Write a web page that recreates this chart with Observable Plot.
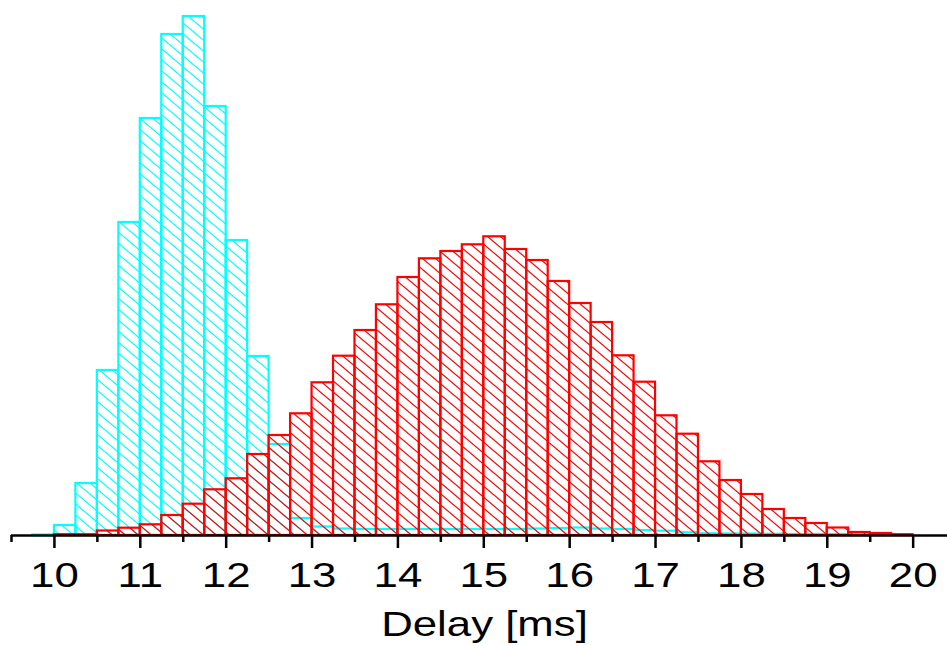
<!DOCTYPE html>
<html>
<head>
<meta charset="utf-8">
<script src="https://cdn.jsdelivr.net/npm/d3@7"></script>
<script src="https://cdn.jsdelivr.net/npm/@observablehq/plot@0.6"></script>
<style>
  html, body { margin: 0; padding: 0; background: #fff; }
</style>
</head>
<body>
<div id="chart"></div>
<script>
// Histogram bins: left edges in ms, each bin 0.25 ms wide
const binStarts = [
  9.75, 10.0, 10.25, 10.5, 10.75, 11.0, 11.25, 11.5, 11.75, 12.0,
  12.25, 12.5, 12.75, 13.0, 13.25, 13.5, 13.75, 14.0, 14.25, 14.5,
  14.75, 15.0, 15.25, 15.5, 15.75, 16.0, 16.25, 16.5, 16.75, 17.0,
  17.25, 17.5, 17.75, 18.0, 18.25, 18.5, 18.75, 19.0, 19.25, 19.5, 19.75
];
const binWidth = 0.25;

// Cyan series: narrow distribution around 11.5 ms with a long flat tail
const countsCyan = [
  0.5, 10, 52, 165, 313, 417, 501, 519, 429, 295,
  179, 91, 17, 8.5, 6.5, 6, 6, 6, 6, 6,
  6, 6, 6, 6.5, 7, 7.5, 6.5, 6, 5, 4.3,
  2.7, 1.7, 1.5, 1.5, 1.2, 1, 1, 1, 0.8, 0, 0
];

// Red series: broad distribution peaking near 15 ms
const countsRed = [
  0, 0.8, 0.8, 4.5, 7.3, 10.7, 20, 31.3, 45.7, 56.7,
  81, 100, 121.7, 152.7, 179.3, 205, 230.7, 258, 276.7, 284,
  290.7, 298.7, 286, 275, 254, 232, 213, 179.7, 153.3, 119.7,
  101.3, 73.7, 55, 41, 26, 17, 12, 7.5, 3, 2, 0.8
];

const majorTicks = [10, 11, 12, 13, 14, 15, 16, 17, 18, 19, 20];
const minorTicks = [9.5, 10.5, 11.5, 12.5, 13.5, 14.5, 15.5, 16.5, 17.5, 18.5, 19.5];
const xLabel = "Delay [ms]";

const cyan = "#00ffff";
const red = "#ff0000";

const toRows = (counts) =>
  binStarts.map((x, i) => ({x1: x, x2: x + binWidth, count: counts[i]}));

// Diagonal hatch fills for the two series
const hatchDefs = () => {
  const defs = d3.create("svg:defs");
  for (const [id, color] of [["hatch-cyan", cyan], ["hatch-red", red]]) {
    const p = defs.append("pattern")
      .attr("id", id)
      .attr("patternUnits", "userSpaceOnUse")
      .attr("width", 13)
      .attr("height", 11);
    p.append("path")
      .attr("d", "M-1.3,-1.1L14.3,12.1M-1.3,9.9L1.3,12.1M11.7,-1.1L14.3,1.1")
      .attr("stroke", color)
      .attr("stroke-width", 1.2)
      .attr("fill", "none");
  }
  return defs.node();
};

const chart = Plot.plot({
  width: 947,
  height: 646,
  marginTop: 0,
  marginBottom: 111,
  marginLeft: 11,
  marginRight: 0,
  style: {
    fontFamily: '"Liberation Sans", Arial, sans-serif',
    background: "#fff",
    color: "#000",
    overflow: "visible"
  },
  x: {domain: [9.5, 20.4], label: null},
  y: {domain: [0, 535], axis: null},
  marks: [
    hatchDefs,
    Plot.rectY(toRows(countsCyan), {
      x1: "x1", x2: "x2", y: "count",
      fill: "url(#hatch-cyan)", stroke: cyan, strokeWidth: 2.2
    }),
    Plot.rectY(toRows(countsRed), {
      x1: "x1", x2: "x2", y: "count",
      fill: "url(#hatch-red)", stroke: red, strokeWidth: 2.2
    }),
    Plot.ruleY([0], {stroke: "#000", strokeWidth: 2.5}),
    Plot.axisX(minorTicks, {
      tickSize: 7, stroke: "#000", strokeWidth: 2.5, fill: "none", label: null
    }),
    Plot.axisX(majorTicks, {
      tickSize: 13, tickPadding: 14, stroke: "#000", strokeWidth: 2.5,
      fill: "#000", fontSize: 35, tickFormat: (d) => String(d),
      label: xLabel, labelAnchor: "center", labelArrow: "none", labelOffset: 100
    })
  ]
});

document.getElementById("chart").append(chart);

// Widen the axis lettering a little
const widen = 1.25;
chart.querySelectorAll('g[aria-label="x-axis tick label"] text')
  .forEach((t) => {
    const len = t.getComputedTextLength();
    if (len > 0) {
      t.setAttribute("textLength", (len * widen).toFixed(1));
      t.setAttribute("lengthAdjust", "spacingAndGlyphs");
    }
  });
const labelGroup = chart.querySelector('g[aria-label="x-axis label"]');
if (labelGroup) {
  const t = labelGroup.querySelector("text");
  t.textContent = xLabel;
  const len = t.getComputedTextLength();
  t.setAttribute("textLength", (len * widen).toFixed(1));
  t.setAttribute("lengthAdjust", "spacingAndGlyphs");
  const base = labelGroup.getAttribute("transform") || "";
  labelGroup.setAttribute("transform", (base + " translate(5,0)").trim());
}
</script>
</body>
</html>
